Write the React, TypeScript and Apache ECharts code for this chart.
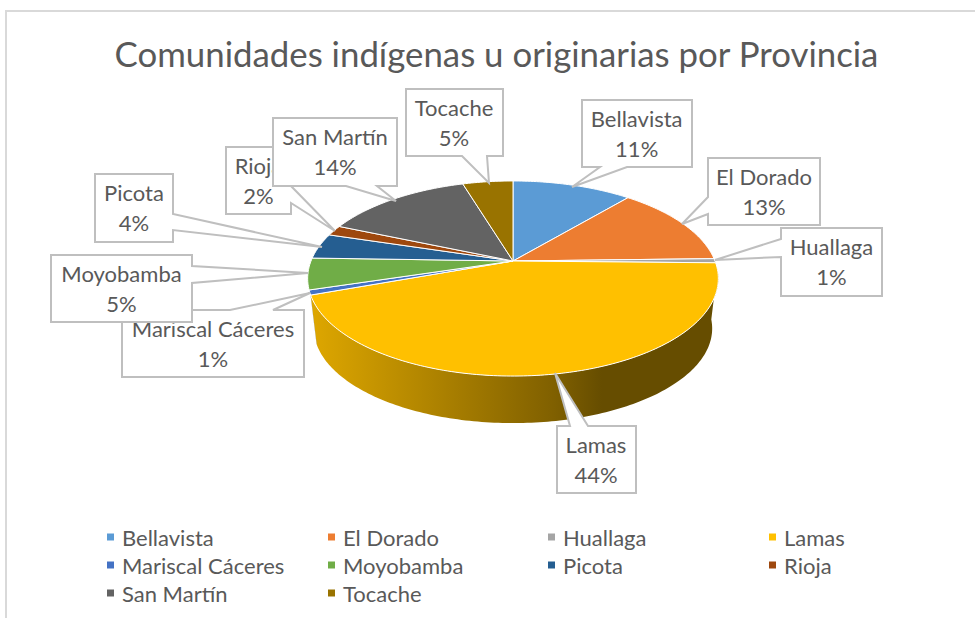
import React, { useEffect, useRef } from "react";
import * as echarts from "echarts";

const FONT = "Lato";
const TEXT_COLOR = "#595959";
const TITLE = "Comunidades indígenas u originarias por Provincia";

const categories = ["Bellavista", "El Dorado", "Huallaga", "Lamas", "Mariscal Cáceres", "Moyobamba", "Picota", "Rioja", "San Martín", "Tocache"];
const values = [11.2, 13.4, 0.7, 44.2, 0.8, 5.2, 4.2, 1.7, 13.9, 4.7];
const colors = ["#5B9BD5", "#ED7D31", "#A5A5A5", "#FFC000", "#4472C4", "#70AD47", "#255E91", "#9E480E", "#636363", "#997300"];

// Callout outlines (layout only): box centre plus outline points.
const calloutCentres = [
  [636.7, 134], [764, 192], [831.5, 262], [596, 460], [213, 344],
  [121.5, 289], [134, 208], [258.5, 180.5], [335, 152], [454, 123],
];
const calloutShapes = [
  [[582, 100], [692, 100], [692, 167], [627, 167], [572, 187], [600, 167], [582, 167]],
  [[708, 158], [820, 158], [820, 225], [708, 225], [708, 214], [682, 224], [708, 197]],
  [[781, 228], [882, 228], [882, 296], [781, 296], [781, 257], [715, 260], [781, 239]],
  [[557, 426], [570, 426], [555, 373], [588, 426], [636, 426], [636, 493], [557, 493]],
  [[122, 310], [230, 310], [310, 293], [273, 310], [304, 310], [304, 377], [122, 377]],
  [[51, 255], [192, 255], [192, 266], [308, 273], [192, 283], [192, 322], [51, 322]],
  [[95, 174], [173, 174], [173, 214], [322, 247], [173, 230], [173, 242], [95, 242]],
  [[226, 147], [291, 147], [291, 186], [335, 231], [291, 203], [291, 214], [226, 214]],
  [[273, 118], [397, 118], [397, 186], [377, 186], [396, 201], [346, 186], [273, 186]],
  [[406, 89], [503, 89], [503, 156], [487, 156], [489, 183], [462, 156], [406, 156]],
];
const legendColumns = [
  { left: 107, names: ["Bellavista", "Mariscal Cáceres", "San Martín"] },
  { left: 328, names: ["El Dorado", "Moyobamba", "Tocache"] },
  { left: 548, names: ["Huallaga", "Picota"] },
  { left: 769, names: ["Lamas", "Rioja"] },
];

// Perspective model of the tilted disc.
const CX = 513, TOP_Y = 261, BOTTOM_Y = 311.5, R = 202, A = 94.4, K = 0.1795, BOTTOM_SCALE = 0.97;
const FRONT_FROM = 95, FRONT_TO = 250.5;

const total = values.reduce((a, b) => a + b, 0);
const startAngle = (i: number) => (values.slice(0, i).reduce((a, b) => a + b, 0) / total) * 360;

function rim(deg: number, y0: number, scale: number) {
  const t = (deg * Math.PI) / 180;
  const sx = Math.sin(t), z = -Math.cos(t), den = 1 - K * z;
  return [CX + (R * sx * scale) / den, y0 + (A * z * scale) / den];
}
function arc(a: number, b: number, y0: number, scale: number) {
  const n = Math.max(2, Math.ceil(Math.abs(b - a)));
  const out: number[][] = [];
  for (let i = 0; i <= n; i++) out.push(rim(a + ((b - a) * i) / n, y0, scale));
  return out;
}
function shade(hex: string, f: number) {
  const n = parseInt(hex.slice(1), 16);
  const c = [(n >> 16) & 255, (n >> 8) & 255, n & 255].map((v) => Math.round(v * f));
  return `rgb(${c[0]},${c[1]},${c[2]})`;
}

export default function App() {
  const ref = useRef<HTMLDivElement>(null);
  useEffect(() => {
    const chart = echarts.init(ref.current!, undefined, { renderer: "svg" });
    const indexData = categories.map((c, i) => ({ name: c, value: values[i] }));
    chart.setOption({
      animation: false,
      backgroundColor: "#fff",
      title: {
        text: TITLE,
        left: 491.5,
        top: 31,
        textAlign: "center",
        textStyle: { fontFamily: FONT, fontSize: 34.8, fontWeight: "normal", color: TEXT_COLOR },
      },
      legend: legendColumns.map((c) => ({
        data: c.names,
        orient: "vertical",
        left: c.left,
        top: 525,
        padding: 0,
        itemWidth: 7,
        itemHeight: 7,
        itemGap: 4,
        selectedMode: false,
        icon: "rect",
        textStyle: { fontFamily: FONT, fontSize: 22, color: TEXT_COLOR, padding: [0, 0, 0, 3], lineHeight: 24 },
      })),
      graphic: [
        { type: "polyline", silent: true, shape: { points: [[6, 618], [6, 11], [975, 11]] }, style: { stroke: "#D9D9D9", lineWidth: 2, fill: "none" } },
      ],
      series: [
        {
          // Carries the legend entries; the disc itself is the custom series below.
          type: "pie",
          radius: [0, 0],
          center: [CX, TOP_Y],
          silent: true,
          label: { show: false },
          labelLine: { show: false },
          data: indexData.map((d, i) => ({ ...d, itemStyle: { color: colors[i] } })),
          z: 0,
        },
        {
          type: "custom",
          coordinateSystem: "none",
          silent: true,
          z: 1,
          data: indexData,
          renderItem: (p: any) => {
            const i = p.dataIndex;
            const a = Math.max(startAngle(i), FRONT_FROM);
            const b = Math.min(startAngle(i + 1), FRONT_TO);
            if (b <= a) return { type: "group", children: [] };
            const points = [...arc(a, b, TOP_Y, 1), ...arc(b, a, BOTTOM_Y, BOTTOM_SCALE)];
            return {
              type: "polygon",
              shape: { points },
              style: {
                fill: {
                  type: "linear",
                  global: true,
                  x: CX - R,
                  y: 0,
                  x2: CX + R,
                  y2: 0,
                  colorStops: [
                    { offset: 0, color: shade(colors[i], 0.87) },
                    { offset: 0.6, color: shade(colors[i], 0.5) },
                    { offset: 0.72, color: shade(colors[i], 0.4) },
                    { offset: 1, color: shade(colors[i], 0.4) },
                  ],
                },
              },
            };
          },
        },
        {
          type: "custom",
          coordinateSystem: "none",
          silent: true,
          z: 2,
          data: indexData,
          renderItem: (p: any) => {
            const i = p.dataIndex;
            const points = [[CX, TOP_Y], ...arc(startAngle(i), startAngle(i + 1), TOP_Y, 1)];
            return { type: "polygon", shape: { points }, style: { fill: colors[i], stroke: "#fff", lineWidth: 1, lineJoin: "round" } };
          },
        },
        {
          type: "custom",
          coordinateSystem: "none",
          silent: true,
          z: 3,
          data: indexData,
          renderItem: (p: any) => {
            const i = p.dataIndex;
            const pct = Math.round((values[i] / total) * 100);
            return {
              type: "group",
              children: [
                { type: "polygon", shape: { points: calloutShapes[i] }, style: { fill: "#fff", stroke: "#BFBFBF", lineWidth: 2 } },
                {
                  type: "text",
                  style: {
                    text: `${categories[i]}\n${pct}%`,
                    x: calloutCentres[i][0],
                    y: calloutCentres[i][1] - 0.5,
                    align: "center",
                    verticalAlign: "middle",
                    fontFamily: FONT,
                    fontSize: 22,
                    lineHeight: 30,
                    fill: TEXT_COLOR,
                  },
                },
              ],
            };
          },
        },
      ],
    });
    return () => chart.dispose();
  }, []);
  return <div ref={ref} style={{ position: "fixed", left: 0, top: 0, width: 975, height: 618 }} />;
}
